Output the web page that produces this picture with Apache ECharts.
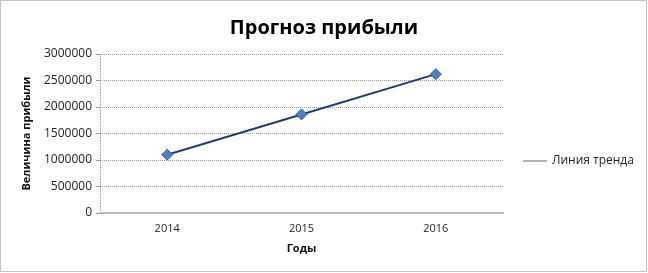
<!DOCTYPE html>
<html><head><meta charset="utf-8">
<script src="https://cdn.jsdelivr.net/npm/echarts@6/dist/echarts.min.js"></script>
<style>html,body{margin:0;padding:0;background:#fff}#c{width:648px;height:273px}</style>
</head><body><div id="c"></div>
<script>
const categories = ['2014', '2015', '2016'];
const profit = [1100000, 1860000, 2620000];
const yTicks = [0, 500000, 1000000, 1500000, 2000000, 2500000, 3000000];
const seriesName = 'Линия тренда';

const chart = echarts.init(document.getElementById('c'));
const FONT = '"Open Sans", "Noto Sans", sans-serif';
chart.setOption({
  animation: false,
  textStyle: { fontFamily: FONT },
  title: {
    text: 'Прогноз прибыли', left: 'center', top: 13,
    textStyle: { fontSize: 20, fontWeight: 'bold', color: '#000', fontFamily: FONT }
  },
  graphic: [{
    type: 'rect', shape: { x: 0.5, y: 0.5, width: 646, height: 271 },
    style: { fill: 'none', stroke: '#888', lineWidth: 1, lineDash: [1, 1] }
  }],
  legend: {
    left: 518, top: 150, orient: 'vertical',
    icon: 'rect', itemWidth: 24, itemHeight: 1, itemGap: 6,
    itemStyle: { color: '#666', borderWidth: 0 },
    textStyle: { fontSize: 12, color: '#222', fontFamily: FONT },
    data: [seriesName]
  },
  grid: { left: 100, right: 145, top: 54, bottom: 60, containLabel: false },
  xAxis: {
    type: 'category', data: categories, boundaryGap: true,
    name: 'Годы', nameLocation: 'middle', nameGap: 30,
    nameTextStyle: { fontSize: 11, fontWeight: 'bold', color: '#111', fontFamily: FONT },
    axisLine: { lineStyle: { color: '#bbb', width: 2 } },
    axisTick: { show: false },
    axisLabel: { fontSize: 11, color: '#222', margin: 10 }
  },
  yAxis: {
    type: 'value', min: 0, max: 3000000, interval: 500000,
    name: 'Величина прибыли', nameLocation: 'middle', nameGap: 68, nameRotate: 90,
    nameTextStyle: { fontSize: 11, fontWeight: 'bold', color: '#111', fontFamily: FONT },
    axisLine: { show: true, lineStyle: { color: '#999', type: [1, 2], width: 1 } },
    axisTick: { show: true, length: 4, lineStyle: { color: '#999' } },
    axisLabel: { fontSize: 12, color: '#222', margin: 8,
      formatter: v => yTicks.includes(v) ? String(v) : '' },
    splitLine: { lineStyle: { color: '#999', type: [1, 1], width: 1 } }
  },
  series: [{
    name: seriesName, type: 'line', data: profit,
    symbol: 'diamond', symbolSize: 11,
    lineStyle: { color: '#1F3E6E', width: 2 },
    itemStyle: { color: '#4F81BD', borderColor: '#2F5E9E', borderWidth: 1 }
  }]
});
</script></body></html>
